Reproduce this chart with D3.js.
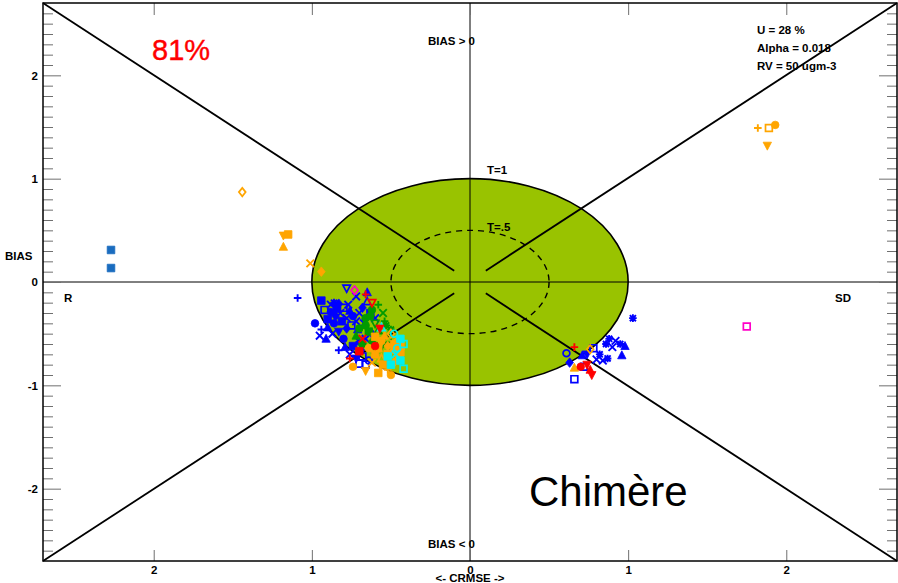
<!DOCTYPE html>
<html lang="en">
<head>
<meta charset="UTF-8">
<title>Target diagram</title>
<style>
  body { margin: 0; background: #fff; }
  text { font-family: "Liberation Sans", Arial, sans-serif; }
  .lbl { font-size: 11.5px; font-weight: bold; fill: #000; }
</style>
</head>
<body>
<svg class="chart"></svg>
<script src="https://d3js.org/d3.v7.min.js"></script>
<script>
// ---- data (x = CRMSE signed: <0 is R side, >0 is SD side ; y = BIAS) ----
var xTicks = [-2, -1, 0, 1, 2];
var yTicks = [-2, -1, 0, 1, 2];
var targetRadii = [1, 0.5];
var targetLabels = ['T=1', 'T=.5'];
var infoLines = ['U = 28 %', 'Alpha = 0.018', 'RV = 50 ugm-3'];
var scoreText = '81%';
var modelName = 'Chimère';

var bluePts = [
  [-0.78, -0.06, 'dtri_o'], [-0.72, -0.14, 'x'], [-0.65, -0.10, 'tri'], [-0.65, -0.19, 'tri_o'],
  [-0.94, -0.18, 'sq'], [-0.92, -0.27, 'sq_o'], [-0.88, -0.22, 'x'], [-0.86, -0.20, 'star'],
  [-0.84, -0.26, 'sq'], [-0.82, -0.30, 'x'], [-0.85, -0.33, 'dia'], [-0.80, -0.25, 'sq_o'],
  [-0.78, -0.35, 'x'], [-0.76, -0.28, 'tri'], [-0.74, -0.33, 'circ'], [-0.70, -0.30, 'x'],
  [-0.68, -0.25, 'dia'], [-0.98, -0.40, 'circ'], [-0.94, -0.46, 'plus'], [-0.90, -0.44, 'tri'],
  [-0.87, -0.50, 'x'], [-0.83, -0.48, 'dtri'], [-0.78, -0.45, 'dia'], [-0.75, -0.42, 'sq_o'],
  [-0.72, -0.38, 'x'], [-0.83, -0.66, 'plus'], [-0.79, -0.63, 'tri'], [-0.76, -0.70, 'x'],
  [-0.72, -0.74, 'dtri'], [-0.68, -0.72, 'sq_o'], [-0.64, -0.76, 'circ_o'], [-0.70, -0.58, 'star'],
  [-0.66, -0.55, 'x'], [-0.62, -0.50, 'dia'], [-0.60, -0.35, 'x'], [-1.09, -0.155, 'plus'],
  [-0.90, -0.36, 'sq'], [-0.86, -0.40, 'circ'], [-0.81, -0.38, 'sq'], [-0.88, -0.29, 'circ'],
  [-0.83, -0.21, 'dia'], [-0.77, -0.22, 'x'], [-0.95, -0.52, 'x'], [-0.91, -0.55, 'tri'],
  [-0.80, -0.55, 'circ'], [-0.74, -0.62, 'sq'], [-0.69, -0.66, 'dia'], [-0.71, -0.46, 'tri'],
  [-0.67, -0.40, 'x'], [-0.63, -0.30, 'sq'], [-0.70, -0.79, 'sq_o'], [-0.66, -0.80, 'sq_o'],
  [1.03, -0.35, 'star'], [0.61, -0.69, 'circ_o'], [0.63, -0.78, 'dia'], [0.71, -0.71, 'tri'],
  [0.74, -0.70, 'dtri'], [0.78, -0.64, 'sq_o'], [0.88, -0.55, 'star'], [0.92, -0.57, 'x'],
  [0.95, -0.60, 'star'], [0.90, -0.63, 'x'], [0.86, -0.60, 'star'], [0.96, -0.71, 'tri'],
  [0.80, -0.75, 'x'], [0.84, -0.76, 'x'], [0.87, -0.74, 'star'], [0.72, -0.82, 'sq_o'],
  [0.66, -0.94, 'sq_o'], [0.98, -0.62, 'tri'], [0.82, -0.70, 'star']
];

var greenPts = [
  [-0.62, -0.27, 'circ'], [-0.58, -0.22, 'plus'], [-0.66, -0.35, 'circ'], [-0.60, -0.40, 'dtri_o'],
  [-0.55, -0.30, 'x'], [-0.70, -0.45, 'circ'], [-0.64, -0.48, 'sq'], [-0.58, -0.47, 'tri_o'],
  [-0.53, -0.42, 'star'], [-0.68, -0.60, 'circ'], [-0.62, -0.58, 'dia'], [-0.56, -0.62, 'dtri_o'],
  [-0.52, -0.55, 'sq_o'], [-0.72, -0.52, 'tri'], [-0.50, -0.46, 'star'], [-0.60, -0.66, 'x'],
  [-0.54, -0.38, 'plus'], [-0.66, -0.42, 'circ'], [-0.63, -0.33, 'circ']
];

var orangePts = [
  [-0.60, -0.53, 'sq'], [-0.56, -0.57, 'circ'], [-0.52, -0.62, 'dia'], [-0.48, -0.60, 'sq'],
  [-0.64, -0.64, 'circ'], [-0.60, -0.70, 'sq'], [-0.56, -0.74, 'tri_o'], [-0.52, -0.70, 'sq'],
  [-0.48, -0.66, 'circ'], [-0.45, -0.72, 'sq'], [-0.55, -0.80, 'sq'], [-0.52, -0.85, 'plus'],
  [-0.58, -0.88, 'sq'], [-0.50, -0.90, 'circ'], [-0.48, -0.78, 'dia'], [-0.44, -0.68, 'sq'],
  [-0.46, -0.58, 'circ_o'], [-0.50, -0.50, 'dia_o'], [-0.74, -0.82, 'circ'], [-0.62, -0.78, 'x'],
  [-0.66, -0.86, 'dtri'], [-0.44, -0.62, 'sq'], [-0.54, -0.52, 'tri'], [-0.58, -0.64, 'sq'],
  [-1.44, 0.87, 'dia_o'], [-1.18, 0.45, 'dtri'], [-1.15, 0.46, 'sq'], [-1.18, 0.34, 'tri'],
  [-1.01, 0.18, 'x'], [-0.94, 0.10, 'dia'],
  [1.82, 1.49, 'plus'], [1.89, 1.49, 'sq_o'], [1.93, 1.52, 'circ'], [1.88, 1.32, 'dtri'],
  [0.76, -0.65, 'dia_o'], [0.66, -0.83, 'tri']
];

var cyanPts = [
  [-0.48, -0.50, 'circ_o'], [-0.44, -0.55, 'sq'], [-0.46, -0.64, 'circ_o'], [-0.52, -0.72, 'sq'],
  [-0.42, -0.60, 'sq_o'], [-0.44, -0.76, 'sq'], [-0.50, -0.80, 'sq'], [-0.42, -0.84, 'sq_o'],
  [-0.56, -0.44, 'tri_o'], [-0.47, -0.70, 'x']
];

var redPts = [
  [-0.62, -0.20, 'dtri_o'], [-0.66, -0.12, 'plus'], [-0.70, -0.67, 'sq'], [-0.76, -0.74, 'plus'],
  [-0.68, -0.55, 'x'], [-0.60, -0.62, 'circ'], [-0.57, -0.45, 'dtri'],
  [0.66, -0.63, 'plus'], [0.70, -0.82, 'circ'], [0.74, -0.80, 'dtri'], [0.77, -0.90, 'dtri'],
  [0.76, -0.85, 'tri']
];

var magentaPts = [[-0.73, -0.08, 'dia_o'], [1.75, -0.43, 'sq_o']];
var steelPts = [[-2.27, 0.31, 'sq'], [-2.27, 0.135, 'sq']];

var seriesData = [bluePts, greenPts, orangePts, cyanPts, redPts, magentaPts, steelPts];
var seriesColors = ['#0000ff', '#009a00', '#ffa500', '#00f0f0', '#ff0000', '#ff00c8', '#1a6cbf'];

// ---- layout ----
var W = 898, H = 583;
var plot = {left: 43, right: 897, top: 3, bottom: 561};

var svg = d3.select('.chart').attr('width', W).attr('height', H);

var x = d3.scaleLinear().domain([-2.7, 2.7]).range([plot.left, plot.right]);
var y = d3.scaleLinear().domain([-2.7, 2.7]).range([plot.bottom, plot.top]);

// target ellipses
svg.append('ellipse')
    .attr('cx', x(0)).attr('cy', y(0))
    .attr('rx', x(targetRadii[0]) - x(0)).attr('ry', y(0) - y(targetRadii[0]))
    .attr('fill', '#99c300').attr('stroke', '#000').attr('stroke-width', 1.6);

svg.append('ellipse')
    .attr('cx', x(0)).attr('cy', y(0))
    .attr('rx', x(targetRadii[1]) - x(0)).attr('ry', y(0) - y(targetRadii[1]))
    .attr('fill', 'none').attr('stroke', '#000').attr('stroke-width', 1.4)
    .attr('stroke-dasharray', '6,5');

// diagonals from the corners toward the centre
var diag = [[-1, 1], [1, 1], [-1, -1], [1, -1]];
diag.forEach(function (d) {
    svg.append('line')
        .attr('x1', x(d[0] * 2.7)).attr('y1', y(d[1] * 2.7))
        .attr('x2', x(d[0] * 0.1)).attr('y2', y(d[1] * 0.11))
        .attr('stroke', '#000').attr('stroke-width', 1.8);
});

// cross hairs
svg.append('line').attr('x1', x(0)).attr('x2', x(0)).attr('y1', plot.top).attr('y2', plot.bottom)
    .attr('stroke', '#000').attr('stroke-width', 1);
svg.append('line').attr('x1', plot.left).attr('x2', plot.right).attr('y1', y(0)).attr('y2', y(0))
    .attr('stroke', '#000').attr('stroke-width', 1);

// axes (ticks point into the plot)
var minorY = d3.range(-26, 27).map(function (i) { return i / 10; })
    .filter(function (v) { return Math.abs(v * 10 % 10) > 0.01; });

function styleAxis(g) {
    g.select('.domain').remove();
    g.selectAll('.tick line').attr('stroke', '#6f6f6f');
    g.selectAll('text').attr('class', 'lbl').attr('fill', '#000');
}

svg.append('g').attr('transform', `translate(${plot.left},0)`)
    .call(d3.axisLeft(y).tickValues(minorY).tickSize(-10).tickFormat(''))
    .call(styleAxis);
svg.append('g').attr('transform', `translate(${plot.left},0)`)
    .call(d3.axisLeft(y).tickValues(yTicks).tickSize(-18).tickPadding(5).tickFormat(function (d) { return String(d); }))
    .call(styleAxis);
svg.append('g').attr('transform', `translate(${plot.right},0)`)
    .call(d3.axisRight(y).tickValues(minorY).tickSize(-10).tickFormat(''))
    .call(styleAxis);
svg.append('g').attr('transform', `translate(${plot.right},0)`)
    .call(d3.axisRight(y).tickValues(yTicks).tickSize(-18).tickFormat(''))
    .call(styleAxis);
svg.append('g').attr('transform', `translate(0,${plot.bottom})`)
    .call(d3.axisBottom(x).tickValues(xTicks).tickSize(-11).tickPadding(5).tickFormat(function (d) { return Math.abs(d); }))
    .call(styleAxis);
svg.append('g').attr('transform', `translate(0,${plot.top})`)
    .call(d3.axisTop(x).tickValues(xTicks).tickSize(-12).tickFormat(''))
    .call(styleAxis);

// frame
svg.append('rect')
    .attr('x', plot.left).attr('y', plot.top)
    .attr('width', plot.right - plot.left).attr('height', plot.bottom - plot.top)
    .attr('fill', 'none').attr('stroke', '#000').attr('stroke-width', 1.5);

// markers
function symbolPath(type, h) {
    var t = type.replace('_o', '');
    if (t === 'sq') return `M${-h},${-h}H${h}V${h}H${-h}Z`;
    if (t === 'circ') return `M${h},0A${h},${h} 0 1,1 ${-h},0A${h},${h} 0 1,1 ${h},0Z`;
    if (t === 'tri') return `M0,${-h * 1.2}L${h * 1.1},${h * 0.9}L${-h * 1.1},${h * 0.9}Z`;
    if (t === 'dtri') return `M0,${h * 1.2}L${h * 1.1},${-h * 0.9}L${-h * 1.1},${-h * 0.9}Z`;
    if (t === 'dia') return `M0,${-h * 1.25}L${h},0L0,${h * 1.25}L${-h},0Z`;
    if (t === 'plus') return `M${-h},0H${h}M0,${-h}V${h}`;
    if (t === 'x') return `M${-h},${-h}L${h},${h}M${-h},${h}L${h},${-h}`;
    return `M${-h},0H${h}M0,${-h}V${h}M${-h * 0.8},${-h * 0.8}L${h * 0.8},${h * 0.8}M${-h * 0.8},${h * 0.8}L${h * 0.8},${-h * 0.8}`;
}

function isLine(type) { return type === 'plus' || type === 'x' || type === 'star'; }

seriesData.forEach(function (pts, i) {
    svg.append('g').selectAll('path')
        .data(pts)
        .enter()
        .append('path')
        .attr('transform', function (d) { return `translate(${x(d[0])},${y(d[1])})`; })
        .attr('d', function (d) { return symbolPath(d[2], d[2].indexOf('_o') > 0 ? 3.4 : 3.8); })
        .attr('fill', function (d) { return (isLine(d[2]) || d[2].indexOf('_o') > 0) ? 'none' : seriesColors[i]; })
        .attr('stroke', seriesColors[i])
        .attr('stroke-width', function (d) { return isLine(d[2]) ? 1.9 : (d[2].indexOf('_o') > 0 ? 1.7 : 0.8); });
});

// text labels
function label(tx, ty, str, anchor) {
    return svg.append('text').attr('class', 'lbl')
        .attr('x', tx).attr('y', ty).attr('text-anchor', anchor || 'start').text(str);
}

label(428, 45, 'BIAS > 0');
label(428, 548, 'BIAS < 0');
label(x(0), 582, '<- CRMSE ->', 'middle');
label(64, 302, 'R');
label(835, 302, 'SD');
label(5, 260, 'BIAS');
label(487, 174, targetLabels[0]);
label(487, 231, targetLabels[1]);
infoLines.forEach(function (s, i) { label(757, 34 + i * 18, s); });

svg.append('text').attr('x', 152).attr('y', 60)
    .attr('font-size', '29px').attr('fill', '#ff0000').attr('stroke', '#ff0000').attr('stroke-width', 0.4)
    .text(scoreText);

svg.append('text').attr('x', 529).attr('y', 506)
    .attr('font-size', '42px').attr('fill', '#000').text(modelName);
</script>
</body>
</html>
